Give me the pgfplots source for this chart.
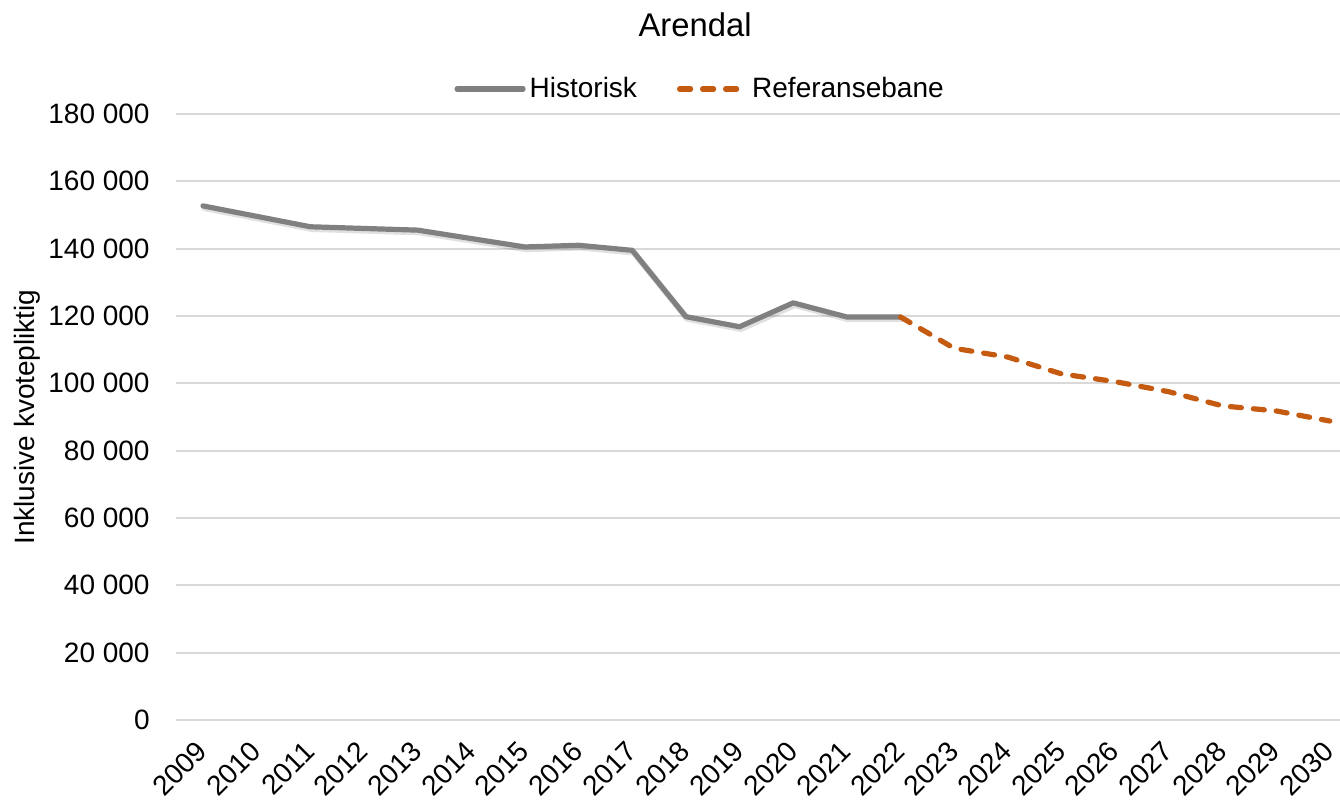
\documentclass[border=0pt]{standalone}
\usepackage{fontspec}
\setmainfont{Liberation Sans}
\usepackage{pgfplots}
\pgfplotsset{compat=1.18}
\definecolor{histgray}{RGB}{128,128,128}
\definecolor{refor}{RGB}{197,90,17}
\definecolor{gridc}{RGB}{217,217,217}

\begin{document}
\begin{tikzpicture}
\begin{axis}[name=ax, scale only axis, width=582pt, height=303pt,
  xmin=2008.497, xmax=2030.19, ymin=0, ymax=180000,
  xtick={2009,2010,2011,2012,2013,2014,2015,2016,2017,2018,2019,2020,2021,2022,2023,2024,2025,2026,2027,2028,2029,2030},
  xticklabels={2009,2010,2011,2012,2013,2014,2015,2016,2017,2018,2019,2020,2021,2022,2023,2024,2025,2026,2027,2028,2029,2030},
  ytick={0,20000,40000,60000,80000,100000,120000,140000,160000,180000},
  yticklabels={0,20 000,40 000,60 000,80 000,100 000,120 000,140 000,160 000,180 000},
  axis line style={draw=none}, major tick length=0pt,
  ymajorgrids, grid style={gridc, line width=0.9pt},
  scaled y ticks=false,
  tick label style={font=\fontsize{14}{17}\selectfont},
  x tick label style={xshift=-4pt, yshift=-9.6pt, rotate=45, anchor=north east, inner sep=0pt},
  y tick label style={inner sep=0pt, xshift=-13pt},
  ylabel={Inklusive kvotepliktig},
  ylabel style={at={(axis description cs:-0.128,0.5)}, anchor=center, font=\fontsize{14}{17}\selectfont},
  title={Arendal},
  title style={at={(axis description cs:0.4459,1.127)}, anchor=center, font=\fontsize{16.4}{20}\selectfont},
  legend style={at={(axis description cs:0.4511,1.0413)}, anchor=center, draw=none, fill=none,
    legend columns=2, font=\fontsize{14}{17}\selectfont,
    /tikz/every even column/.append style={column sep=18pt}},
  legend image code/.code={\draw[#1] (0pt,0pt) -- (33pt,0pt);},
]
\addplot[forget plot, black, opacity=0.12, line width=3.2pt, line join=round, line cap=round, xshift=0.7pt, yshift=-1pt] coordinates {
(2009,152700) (2010,149600) (2011,146500) (2012,146000) (2013,145500) (2014,143000) (2015,140500)
(2016,141000) (2017,139500) (2018,119800) (2019,116800) (2020,123900) (2021,119700) (2022,119700)};
\addplot[histgray, line width=2.6pt, line join=round, line cap=round] coordinates {
(2009,152700) (2010,149600) (2011,146500) (2012,146000) (2013,145500) (2014,143000) (2015,140500)
(2016,141000) (2017,139500) (2018,119800) (2019,116800) (2020,123900) (2021,119700) (2022,119700)};
\addlegendentry{Historisk}
\addplot[refor, line width=2.6pt, line join=round, line cap=round, dash pattern=on 5.5pt off 6pt] coordinates {
(2022,119700) (2023,110400) (2024,107800) (2025,102800) (2026,100500) (2027,97500) (2028,93300)
(2029,91800) (2030,88800)};
\addlegendentry{Referansebane}
\end{axis}
\pgfresetboundingbox
\path ([xshift=-88pt,yshift=-40pt]ax.south west) rectangle ([yshift=57pt]ax.north east);
\end{tikzpicture}
\end{document}
